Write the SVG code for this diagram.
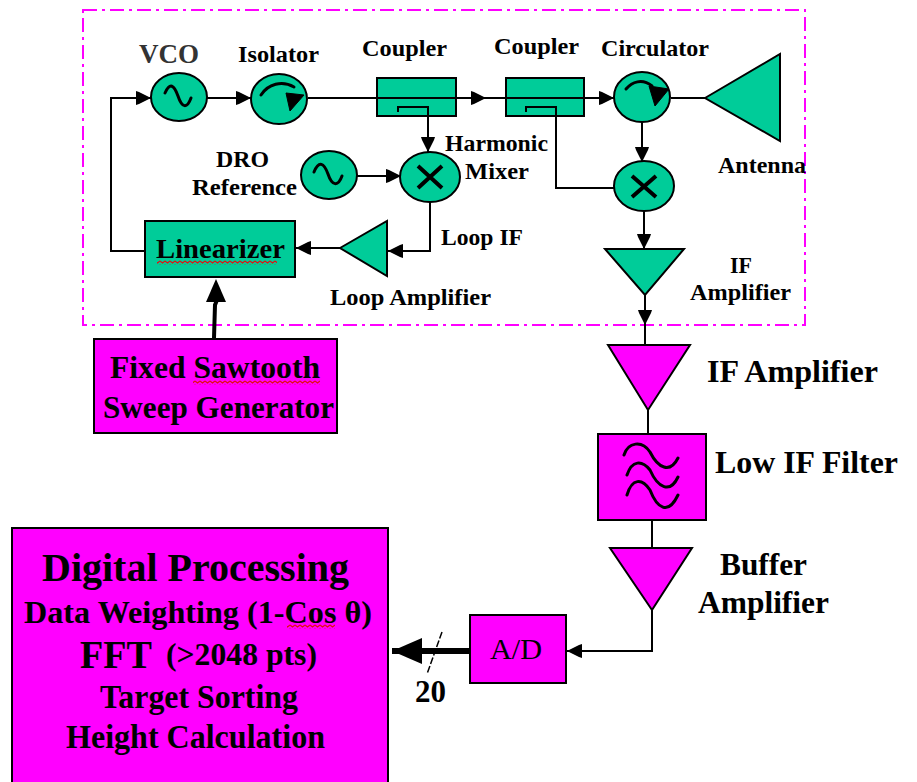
<svg xmlns="http://www.w3.org/2000/svg" width="917" height="782" viewBox="0 0 917 782">
<style>
text{font-family:"Liberation Serif","Times New Roman",serif;font-weight:bold;fill:#000;text-anchor:start}
.g{fill:#00CC99;stroke:#000;stroke-width:2}
.m{fill:#FF00FF;stroke:#000;stroke-width:2}
.w{fill:none;stroke:#000;stroke-width:2}
.i{fill:none;stroke:#000;stroke-width:3;stroke-linecap:round;stroke-linejoin:round}
.a{marker-end:url(#ah)}
.s{fill:url(#sq);stroke:none}
.t{fill:#000;stroke:#000;stroke-width:1}
</style>
<defs>
<marker id="ah" viewBox="0 0 15 16" refX="15" refY="8" markerWidth="15" markerHeight="16" markerUnits="userSpaceOnUse" orient="auto"><path d="M0,1 L3,2 L15,8 L3,14 L0,15 Z" fill="#000"/></marker>
<marker id="ahb" viewBox="0 0 30 26" refX="30" refY="13" markerWidth="30" markerHeight="26" markerUnits="userSpaceOnUse" orient="auto"><path d="M0,0 L30,13 L0,26 Z" fill="#000"/></marker>
<pattern id="sq" width="5" height="4" patternUnits="userSpaceOnUse"><path d="M0,1 L2.5,3 L5,1" fill="none" stroke="#E01010" stroke-width="1.2"/></pattern>
</defs>
<rect id="boundary" x="83" y="10" width="722" height="315" fill="none" stroke="#FF00FF" stroke-width="2" stroke-dasharray="14 5 3 5"/>
<g id="connectors">
<path class="w a" d="M145,251 H111 V98 H151"/>
<path class="w a" d="M207,98 H251"/>
<path class="w a" d="M308,98 H486"/>
<path class="w a" d="M486,98 H614"/>
<path class="w a" d="M398,112 V107 H428 V152"/>
<path class="w a" d="M357,176 H401"/>
<path class="w a" d="M430,202 V251 H388"/>
<path class="w a" d="M340,248 H296"/>
<path class="w" d="M526,112 V107 H556 V188 H614"/>
<path class="w" d="M671,98 H705"/>
<path class="w a" d="M642,122 V162"/>
<path class="w a" d="M644,211 V249"/>
<path class="w" d="M645,295 V345"/>
<path class="w a" d="M645,295 V325"/>
<path class="w" d="M648,410 V434"/>
<path class="w" d="M652,520 V548"/>
<path class="w a" d="M652,610 V651 H567"/>
<path d="M214,338 L215,305 L217,300" fill="none" stroke="#000" stroke-width="4"/>
<path d="M216,279 L226,302 L206,302 Z" fill="#000"/>
<path d="M470,651 H392" fill="none" stroke="#000" stroke-width="6" marker-end="url(#ahb)"/>
<path d="M442,632 L427,674" fill="none" stroke="#000" stroke-width="1.5" stroke-dasharray="7 2"/>
</g>
<g id="vco"><ellipse class="g" cx="179" cy="97" rx="28" ry="24"/><path class="i" d="M165,93 C170,82 174,85 178,96 C182,108 187,109 191,98"/><text x="139" y="63" font-size="27" textLength="60" lengthAdjust="spacingAndGlyphs" style="fill:#333">VCO</text></g>
<g id="isolator"><ellipse class="g" cx="279" cy="99" rx="28" ry="25"/><path class="i" d="M261,95 C268,84 282,80 294,87"/><path class="t" d="M286,93 L304,95 L290,111 Z"/><text x="238" y="62" font-size="24" textLength="81" lengthAdjust="spacingAndGlyphs">Isolator</text></g>
<g id="coupler1"><rect class="g" x="377" y="78" width="79" height="38"/><path class="w" d="M377,98 H456 M398,112 V107 H428 V116"/><text x="362" y="56" font-size="24" textLength="85" lengthAdjust="spacingAndGlyphs">Coupler</text></g>
<g id="coupler2"><rect class="g" x="506" y="78" width="78" height="38"/><path class="w" d="M506,98 H584 M526,112 V107 H556 V116"/><text x="494" y="54" font-size="24" textLength="85" lengthAdjust="spacingAndGlyphs">Coupler</text></g>
<g id="circulator"><ellipse class="g" cx="642" cy="97" rx="28" ry="25"/><path class="i" d="M626,89 C632,82 642,78 652,86"/><path class="t" d="M649,86 L669,89 L655,106 Z"/><text x="601" y="56" font-size="24" textLength="108" lengthAdjust="spacingAndGlyphs">Circulator</text></g>
<g id="antenna"><path class="g" d="M705,98 L780,54 V141 Z"/><text x="718" y="173" font-size="24" textLength="88" lengthAdjust="spacingAndGlyphs">Antenna</text></g>
<g id="dro"><ellipse class="g" cx="329" cy="175" rx="28" ry="24"/><path class="i" d="M314,172 C319,160 324,163 328,174 C332,186 338,187 342,176"/><text x="216" y="167" font-size="24" textLength="53" lengthAdjust="spacingAndGlyphs">DRO</text><text x="192" y="195" font-size="24" textLength="105" lengthAdjust="spacingAndGlyphs">Reference</text></g>
<g id="harmonic-mixer"><ellipse class="g" cx="430" cy="177" rx="30" ry="25"/><path d="M418,166 L442,188 M442,166 L418,188" fill="none" stroke="#000" stroke-width="4"/><text x="445" y="151" font-size="24" textLength="103" lengthAdjust="spacingAndGlyphs">Harmonic</text><text x="465" y="179" font-size="24" textLength="64" lengthAdjust="spacingAndGlyphs">Mixer</text></g>
<g id="mixer2"><ellipse class="g" cx="644" cy="186" rx="30" ry="25"/><path d="M632,176 L656,197 M656,176 L632,197" fill="none" stroke="#000" stroke-width="4"/></g>
<g id="if-amplifier1"><path class="g" d="M605,249 H684 L645,295 Z"/><text x="730" y="273" font-size="24" textLength="22" lengthAdjust="spacingAndGlyphs">IF</text><text x="690" y="300" font-size="24" textLength="101" lengthAdjust="spacingAndGlyphs">Amplifier</text></g>
<g id="loop-if"><text x="441" y="245" font-size="24" textLength="82" lengthAdjust="spacingAndGlyphs">Loop IF</text></g>
<g id="loop-amplifier"><path class="g" d="M340,248 L387,221 V276 Z"/><text x="330" y="305" font-size="24" textLength="161" lengthAdjust="spacingAndGlyphs">Loop Amplifier</text></g>
<g id="linearizer"><rect class="g" x="145" y="221" width="150" height="56"/><text x="156" y="258" font-size="28" textLength="129" lengthAdjust="spacingAndGlyphs">Linearizer</text><rect class="s" x="157" y="260" width="120" height="5"/></g>
<g id="sweep-generator"><rect class="m" x="94" y="339" width="243" height="94"/><text x="110" y="378" font-size="32" textLength="210" lengthAdjust="spacingAndGlyphs">Fixed Sawtooth</text><rect class="s" x="193" y="380" width="127" height="5"/><text x="103" y="418" font-size="32" textLength="231" lengthAdjust="spacingAndGlyphs">Sweep Generator</text></g>
<g id="if-amplifier2"><path class="m" d="M608,345 H690 L648,410 Z"/><text x="707" y="382" font-size="32" textLength="171" lengthAdjust="spacingAndGlyphs">IF Amplifier</text></g>
<g id="low-if-filter"><rect class="m" x="598" y="434" width="108" height="86"/><path class="i" d="M624,455 C628,442 642,440 650,452 C658,468 670,474 678,458 M627,475 C632,460 642,460 650,470 C658,488 670,494 678,477 M627,495 C632,478 642,478 650,490 C657,508 668,516 678,495"/><text x="715" y="473" font-size="32" textLength="183" lengthAdjust="spacingAndGlyphs">Low IF Filter</text></g>
<g id="buffer-amplifier"><path class="m" d="M610,548 H692 L652,610 Z"/><text x="720" y="575" font-size="32" textLength="87" lengthAdjust="spacingAndGlyphs">Buffer</text><text x="698" y="613" font-size="32" textLength="131" lengthAdjust="spacingAndGlyphs">Amplifier</text></g>
<g id="ad"><rect class="m" x="470" y="615" width="96" height="68"/><text x="490" y="659" font-size="30" textLength="52" lengthAdjust="spacingAndGlyphs" font-weight="normal" style="font-weight:normal">A/D</text></g>
<g id="bus-label"><text x="415" y="702" font-size="31" textLength="31" lengthAdjust="spacingAndGlyphs">20</text></g>
<g id="digital-processing"><rect class="m" x="12" y="528" width="376" height="256"/>
<text x="42" y="581" font-size="40" textLength="307" lengthAdjust="spacingAndGlyphs">Digital Processing</text>
<text x="24" y="623" font-size="32" textLength="348" lengthAdjust="spacingAndGlyphs">Data Weighting (1-Cos θ)</text><rect class="s" x="287" y="624" width="48" height="5"/>
<text x="80" y="668" font-size="39" textLength="72" lengthAdjust="spacingAndGlyphs">FFT</text><text x="166" y="665" font-size="32" textLength="151" lengthAdjust="spacingAndGlyphs">(&gt;2048 pts)</text>
<text x="100" y="708" font-size="33" textLength="198" lengthAdjust="spacingAndGlyphs">Target Sorting</text>
<text x="66" y="748" font-size="33" textLength="259" lengthAdjust="spacingAndGlyphs">Height Calculation</text></g>
</svg>
